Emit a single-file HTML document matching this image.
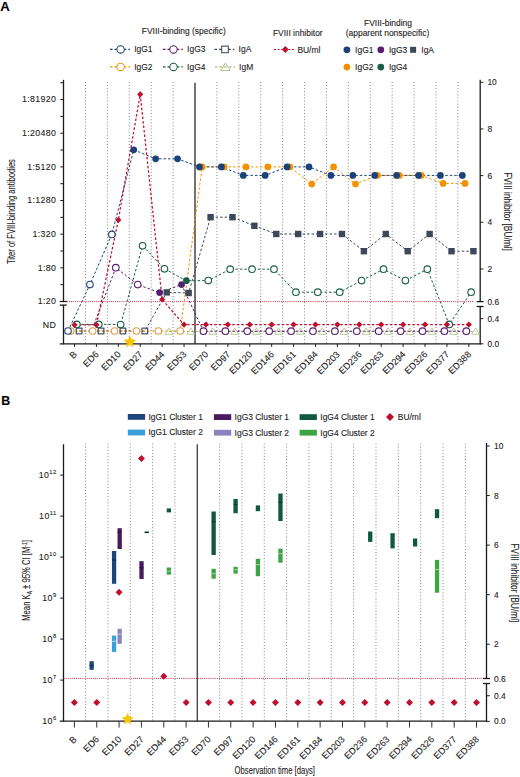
<!DOCTYPE html>
<html><head><meta charset="utf-8"><style>
html,body{margin:0;padding:0;background:#fff;}
svg{display:block;font-family:"Liberation Sans", sans-serif;}
text{stroke:#222;stroke-width:0.1px;}
</style></head><body>
<svg width="520" height="777" viewBox="0 0 520 777">
<rect width="520" height="777" fill="#fff"/>
<text x="0.2" y="11.3" font-size="13.2" text-anchor="start" fill="#000" font-weight="bold">A</text>
<text x="183.8" y="34.1" font-size="8.45" text-anchor="middle" fill="#222" >FVIII-binding (specific)</text>
<text x="297.8" y="35.9" font-size="8.45" text-anchor="middle" fill="#222" >FVIII inhibitor</text>
<text x="388" y="26.1" font-size="8.45" text-anchor="middle" fill="#222" >FVIII-binding</text>
<text x="387.5" y="35.8" font-size="8.45" text-anchor="middle" fill="#222" >(apparent nonspecific)</text>
<line x1="110" y1="49.4" x2="130" y2="49.4" stroke="#1d4278" stroke-width="1.2" stroke-dasharray="2.6 2.0"/>
<circle cx="120.6" cy="49.4" r="3.7" fill="#fff" stroke="#1d4278" stroke-width="1.05"/>
<text x="134.2" y="52.4" font-size="8.45" text-anchor="start" fill="#222" >IgG1</text>
<line x1="162.9" y1="49.4" x2="182.9" y2="49.4" stroke="#5a1e6e" stroke-width="1.2" stroke-dasharray="2.6 2.0"/>
<circle cx="173.5" cy="49.4" r="3.7" fill="#fff" stroke="#5a1e6e" stroke-width="1.05"/>
<text x="187.1" y="52.4" font-size="8.45" text-anchor="start" fill="#222" >IgG3</text>
<line x1="214.4" y1="49.4" x2="234.4" y2="49.4" stroke="#3e4858" stroke-width="1.2" stroke-dasharray="2.6 2.0"/>
<rect x="221.7" y="46.1" width="6.6" height="6.6" fill="#fff" stroke="#3e4858" stroke-width="1.05"/>
<text x="238.6" y="52.4" font-size="8.45" text-anchor="start" fill="#222" >IgA</text>
<line x1="110" y1="66.9" x2="130" y2="66.9" stroke="#f39200" stroke-width="1.2" stroke-dasharray="2.6 2.0"/>
<circle cx="120.6" cy="66.9" r="3.7" fill="#fff" stroke="#f39200" stroke-width="1.05"/>
<text x="134.2" y="69.9" font-size="8.45" text-anchor="start" fill="#222" >IgG2</text>
<line x1="162.9" y1="66.9" x2="182.9" y2="66.9" stroke="#1b5e47" stroke-width="1.2" stroke-dasharray="2.6 2.0"/>
<circle cx="173.5" cy="66.9" r="3.7" fill="#fff" stroke="#1b5e47" stroke-width="1.05"/>
<text x="187.1" y="69.9" font-size="8.45" text-anchor="start" fill="#222" >IgG4</text>
<line x1="214.9" y1="66.9" x2="234.9" y2="66.9" stroke="#a9b97c" stroke-width="1.2" stroke-dasharray="2.6 2.0"/>
<path d="M225.5 62.9L230.23 70.55L220.77 70.55Z" fill="none" stroke="#a9b97c" stroke-width="0.9"/>
<text x="239.1" y="69.9" font-size="8.45" text-anchor="start" fill="#222" >IgM</text>
<line x1="274" y1="49.5" x2="294" y2="49.5" stroke="#be0f2e" stroke-width="1" stroke-dasharray="2 1.6"/>
<path d="M285.3 46.1L288.7 49.5L285.3 52.9L281.9 49.5Z" fill="#be0f2e"/>
<text x="297.4" y="52.5" font-size="8.45" text-anchor="start" fill="#222" >BU/ml</text>
<circle cx="346.9" cy="49.8" r="3.4" fill="#1d4278" stroke="none" stroke-width="1"/>
<text x="355.1" y="52.8" font-size="8.45" text-anchor="start" fill="#222" >IgG1</text>
<circle cx="380.8" cy="49.8" r="3.4" fill="#5a1e6e" stroke="none" stroke-width="1"/>
<text x="389" y="52.8" font-size="8.45" text-anchor="start" fill="#222" >IgG3</text>
<rect x="410.1" y="46.8" width="6" height="6" fill="#3e4858" stroke="none" stroke-width="1"/>
<text x="421.3" y="52.8" font-size="8.45" text-anchor="start" fill="#222" >IgA</text>
<circle cx="346.9" cy="67.1" r="3.4" fill="#f39200" stroke="none" stroke-width="1"/>
<text x="355.1" y="70.1" font-size="8.45" text-anchor="start" fill="#222" >IgG2</text>
<circle cx="380.8" cy="67.1" r="3.4" fill="#1b5e47" stroke="none" stroke-width="1"/>
<text x="389" y="70.1" font-size="8.45" text-anchor="start" fill="#222" >IgG4</text>
<line x1="85.47" y1="82" x2="85.47" y2="343.8" stroke="#777" stroke-width="0.9" stroke-dasharray="1 2.1"/>
<line x1="107.38" y1="82" x2="107.38" y2="343.8" stroke="#777" stroke-width="0.9" stroke-dasharray="1 2.1"/>
<line x1="129.28" y1="82" x2="129.28" y2="343.8" stroke="#777" stroke-width="0.9" stroke-dasharray="1 2.1"/>
<line x1="151.19" y1="82" x2="151.19" y2="343.8" stroke="#777" stroke-width="0.9" stroke-dasharray="1 2.1"/>
<line x1="173.1" y1="82" x2="173.1" y2="343.8" stroke="#777" stroke-width="0.9" stroke-dasharray="1 2.1"/>
<line x1="195" y1="82.8" x2="195" y2="343.8" stroke="#5a5a5a" stroke-width="1.7" />
<line x1="216.91" y1="82" x2="216.91" y2="343.8" stroke="#777" stroke-width="0.9" stroke-dasharray="1 2.1"/>
<line x1="238.81" y1="82" x2="238.81" y2="343.8" stroke="#777" stroke-width="0.9" stroke-dasharray="1 2.1"/>
<line x1="260.72" y1="82" x2="260.72" y2="343.8" stroke="#777" stroke-width="0.9" stroke-dasharray="1 2.1"/>
<line x1="282.63" y1="82" x2="282.63" y2="343.8" stroke="#777" stroke-width="0.9" stroke-dasharray="1 2.1"/>
<line x1="304.53" y1="82" x2="304.53" y2="343.8" stroke="#777" stroke-width="0.9" stroke-dasharray="1 2.1"/>
<line x1="326.44" y1="82" x2="326.44" y2="343.8" stroke="#777" stroke-width="0.9" stroke-dasharray="1 2.1"/>
<line x1="348.34" y1="82" x2="348.34" y2="343.8" stroke="#777" stroke-width="0.9" stroke-dasharray="1 2.1"/>
<line x1="370.25" y1="82" x2="370.25" y2="343.8" stroke="#777" stroke-width="0.9" stroke-dasharray="1 2.1"/>
<line x1="392.16" y1="82" x2="392.16" y2="343.8" stroke="#777" stroke-width="0.9" stroke-dasharray="1 2.1"/>
<line x1="414.06" y1="82" x2="414.06" y2="343.8" stroke="#777" stroke-width="0.9" stroke-dasharray="1 2.1"/>
<line x1="435.97" y1="82" x2="435.97" y2="343.8" stroke="#777" stroke-width="0.9" stroke-dasharray="1 2.1"/>
<line x1="457.87" y1="82" x2="457.87" y2="343.8" stroke="#777" stroke-width="0.9" stroke-dasharray="1 2.1"/>
<line x1="66.8" y1="301.6" x2="473.8" y2="301.6" stroke="#be0f2e" stroke-width="0.9" stroke-dasharray="1 1.1"/>
<line x1="63.5" y1="79.8" x2="63.5" y2="301.5" stroke="#1a1a1a" stroke-width="1.3" />
<line x1="63.5" y1="305.1" x2="63.5" y2="344.4" stroke="#1a1a1a" stroke-width="1.3" />
<line x1="59.8" y1="301.5" x2="66.8" y2="301.5" stroke="#1a1a1a" stroke-width="1.3" />
<line x1="59.8" y1="305.1" x2="66.8" y2="305.1" stroke="#1a1a1a" stroke-width="1.3" />
<line x1="59.8" y1="343.8" x2="480.8" y2="343.8" stroke="#1a1a1a" stroke-width="1.3" />
<line x1="480.2" y1="79.8" x2="480.2" y2="301.6" stroke="#1a1a1a" stroke-width="1.3" />
<line x1="480.2" y1="306.5" x2="480.2" y2="344.4" stroke="#1a1a1a" stroke-width="1.3" />
<line x1="476.7" y1="301.6" x2="483.7" y2="301.6" stroke="#1a1a1a" stroke-width="1.3" />
<line x1="476.7" y1="306.5" x2="483.7" y2="306.5" stroke="#1a1a1a" stroke-width="1.3" />
<line x1="60.3" y1="284.67" x2="63.5" y2="284.67" stroke="#1a1a1a" stroke-width="1" />
<line x1="60.3" y1="267.84" x2="63.5" y2="267.84" stroke="#1a1a1a" stroke-width="1" />
<line x1="60.3" y1="251.01" x2="63.5" y2="251.01" stroke="#1a1a1a" stroke-width="1" />
<line x1="60.3" y1="234.18" x2="63.5" y2="234.18" stroke="#1a1a1a" stroke-width="1" />
<line x1="60.3" y1="217.35" x2="63.5" y2="217.35" stroke="#1a1a1a" stroke-width="1" />
<line x1="60.3" y1="200.52" x2="63.5" y2="200.52" stroke="#1a1a1a" stroke-width="1" />
<line x1="60.3" y1="183.69" x2="63.5" y2="183.69" stroke="#1a1a1a" stroke-width="1" />
<line x1="60.3" y1="166.86" x2="63.5" y2="166.86" stroke="#1a1a1a" stroke-width="1" />
<line x1="60.3" y1="150.03" x2="63.5" y2="150.03" stroke="#1a1a1a" stroke-width="1" />
<line x1="60.3" y1="133.2" x2="63.5" y2="133.2" stroke="#1a1a1a" stroke-width="1" />
<line x1="60.3" y1="116.37" x2="63.5" y2="116.37" stroke="#1a1a1a" stroke-width="1" />
<line x1="60.3" y1="99.54" x2="63.5" y2="99.54" stroke="#1a1a1a" stroke-width="1" />
<line x1="60.3" y1="82.71" x2="63.5" y2="82.71" stroke="#1a1a1a" stroke-width="1" />
<text x="56.4" y="304.3" font-size="8.8" text-anchor="end" fill="#222" letter-spacing="0.38">1:20</text>
<text x="56.4" y="270.64" font-size="8.8" text-anchor="end" fill="#222" letter-spacing="0.38">1:80</text>
<text x="56.4" y="236.98" font-size="8.8" text-anchor="end" fill="#222" letter-spacing="0.38">1:320</text>
<text x="56.4" y="203.32" font-size="8.8" text-anchor="end" fill="#222" letter-spacing="0.38">1:1280</text>
<text x="56.4" y="169.66" font-size="8.8" text-anchor="end" fill="#222" letter-spacing="0.38">1:5120</text>
<text x="56.4" y="136" font-size="8.8" text-anchor="end" fill="#222" letter-spacing="0.38">1:20480</text>
<text x="56.4" y="102.34" font-size="8.8" text-anchor="end" fill="#222" letter-spacing="0.38">1:81920</text>
<text x="56.4" y="327.6" font-size="8.8" text-anchor="end" fill="#222" letter-spacing="0.45">ND</text>
<line x1="480.2" y1="82.3" x2="483.4" y2="82.3" stroke="#1a1a1a" stroke-width="1" />
<text x="487.4" y="85.3" font-size="8.4" text-anchor="start" fill="#222" >10</text>
<line x1="480.2" y1="128.96" x2="483.4" y2="128.96" stroke="#1a1a1a" stroke-width="1" />
<text x="487.4" y="131.96" font-size="8.4" text-anchor="start" fill="#222" >8</text>
<line x1="480.2" y1="175.62" x2="483.4" y2="175.62" stroke="#1a1a1a" stroke-width="1" />
<text x="487.4" y="178.62" font-size="8.4" text-anchor="start" fill="#222" >6</text>
<line x1="480.2" y1="222.28" x2="483.4" y2="222.28" stroke="#1a1a1a" stroke-width="1" />
<text x="487.4" y="225.28" font-size="8.4" text-anchor="start" fill="#222" >4</text>
<line x1="480.2" y1="268.94" x2="483.4" y2="268.94" stroke="#1a1a1a" stroke-width="1" />
<text x="487.4" y="271.94" font-size="8.4" text-anchor="start" fill="#222" >2</text>
<text x="487.4" y="304.6" font-size="8.4" text-anchor="start" fill="#222" >0.6</text>
<line x1="480.2" y1="318.6" x2="483.4" y2="318.6" stroke="#1a1a1a" stroke-width="1" />
<text x="487.4" y="321.6" font-size="8.4" text-anchor="start" fill="#222" >0.4</text>
<line x1="480.2" y1="343.8" x2="483.4" y2="343.8" stroke="#1a1a1a" stroke-width="1" />
<text x="487.4" y="346.8" font-size="8.4" text-anchor="start" fill="#222" >0.0</text>
<line x1="74.52" y1="343.8" x2="74.52" y2="346.9" stroke="#1a1a1a" stroke-width="1" />
<line x1="96.43" y1="343.8" x2="96.43" y2="346.9" stroke="#1a1a1a" stroke-width="1" />
<line x1="118.33" y1="343.8" x2="118.33" y2="346.9" stroke="#1a1a1a" stroke-width="1" />
<line x1="140.24" y1="343.8" x2="140.24" y2="346.9" stroke="#1a1a1a" stroke-width="1" />
<line x1="162.14" y1="343.8" x2="162.14" y2="346.9" stroke="#1a1a1a" stroke-width="1" />
<line x1="184.05" y1="343.8" x2="184.05" y2="346.9" stroke="#1a1a1a" stroke-width="1" />
<line x1="205.96" y1="343.8" x2="205.96" y2="346.9" stroke="#1a1a1a" stroke-width="1" />
<line x1="227.86" y1="343.8" x2="227.86" y2="346.9" stroke="#1a1a1a" stroke-width="1" />
<line x1="249.77" y1="343.8" x2="249.77" y2="346.9" stroke="#1a1a1a" stroke-width="1" />
<line x1="271.67" y1="343.8" x2="271.67" y2="346.9" stroke="#1a1a1a" stroke-width="1" />
<line x1="293.58" y1="343.8" x2="293.58" y2="346.9" stroke="#1a1a1a" stroke-width="1" />
<line x1="315.49" y1="343.8" x2="315.49" y2="346.9" stroke="#1a1a1a" stroke-width="1" />
<line x1="337.39" y1="343.8" x2="337.39" y2="346.9" stroke="#1a1a1a" stroke-width="1" />
<line x1="359.3" y1="343.8" x2="359.3" y2="346.9" stroke="#1a1a1a" stroke-width="1" />
<line x1="381.2" y1="343.8" x2="381.2" y2="346.9" stroke="#1a1a1a" stroke-width="1" />
<line x1="403.11" y1="343.8" x2="403.11" y2="346.9" stroke="#1a1a1a" stroke-width="1" />
<line x1="425.02" y1="343.8" x2="425.02" y2="346.9" stroke="#1a1a1a" stroke-width="1" />
<line x1="446.92" y1="343.8" x2="446.92" y2="346.9" stroke="#1a1a1a" stroke-width="1" />
<line x1="468.83" y1="343.8" x2="468.83" y2="346.9" stroke="#1a1a1a" stroke-width="1" />
<text x="77.52" y="355" font-size="9.2" text-anchor="end" fill="#222" transform="rotate(-45 77.52 355)">B</text>
<text x="99.43" y="355" font-size="9.2" text-anchor="end" fill="#222" transform="rotate(-45 99.43 355)">ED6</text>
<text x="121.33" y="355" font-size="9.2" text-anchor="end" fill="#222" transform="rotate(-45 121.33 355)">ED10</text>
<text x="143.24" y="355" font-size="9.2" text-anchor="end" fill="#222" transform="rotate(-45 143.24 355)">ED27</text>
<text x="165.14" y="355" font-size="9.2" text-anchor="end" fill="#222" transform="rotate(-45 165.14 355)">ED44</text>
<text x="187.05" y="355" font-size="9.2" text-anchor="end" fill="#222" transform="rotate(-45 187.05 355)">ED53</text>
<text x="208.96" y="355" font-size="9.2" text-anchor="end" fill="#222" transform="rotate(-45 208.96 355)">ED70</text>
<text x="230.86" y="355" font-size="9.2" text-anchor="end" fill="#222" transform="rotate(-45 230.86 355)">ED97</text>
<text x="252.77" y="355" font-size="9.2" text-anchor="end" fill="#222" transform="rotate(-45 252.77 355)">ED120</text>
<text x="274.67" y="355" font-size="9.2" text-anchor="end" fill="#222" transform="rotate(-45 274.67 355)">ED146</text>
<text x="296.58" y="355" font-size="9.2" text-anchor="end" fill="#222" transform="rotate(-45 296.58 355)">ED161</text>
<text x="318.49" y="355" font-size="9.2" text-anchor="end" fill="#222" transform="rotate(-45 318.49 355)">ED184</text>
<text x="340.39" y="355" font-size="9.2" text-anchor="end" fill="#222" transform="rotate(-45 340.39 355)">ED203</text>
<text x="362.3" y="355" font-size="9.2" text-anchor="end" fill="#222" transform="rotate(-45 362.3 355)">ED236</text>
<text x="384.2" y="355" font-size="9.2" text-anchor="end" fill="#222" transform="rotate(-45 384.2 355)">ED263</text>
<text x="406.11" y="355" font-size="9.2" text-anchor="end" fill="#222" transform="rotate(-45 406.11 355)">ED294</text>
<text x="428.02" y="355" font-size="9.2" text-anchor="end" fill="#222" transform="rotate(-45 428.02 355)">ED326</text>
<text x="449.92" y="355" font-size="9.2" text-anchor="end" fill="#222" transform="rotate(-45 449.92 355)">ED377</text>
<text x="471.83" y="355" font-size="9.2" text-anchor="end" fill="#222" transform="rotate(-45 471.83 355)">ED388</text>
<text x="15.4" y="211.6" font-size="10.4" text-anchor="middle" fill="#222" textLength="105" lengthAdjust="spacingAndGlyphs" transform="rotate(-90 15.4 211.6)">Titer of FVIII-binding antibodies</text>
<text x="504.4" y="211.5" font-size="10.4" text-anchor="middle" fill="#222" textLength="78.6" lengthAdjust="spacingAndGlyphs" transform="rotate(90 504.4 211.5)">FVIII inhibitor  [BU/ml]</text>
<polyline points="168.94,331.5 190.85,331.5 212.76,331.5 234.66,331.5 256.57,331.5 278.47,331.5 300.38,331.5 322.29,331.5 344.19,331.5 366.1,331.5 388,331.5 409.91,331.5 431.82,331.5 453.72,331.5 475.63,331.5" fill="none" stroke="#a9b97c" stroke-width="1.0" stroke-dasharray="2.5 2.0"/>
<polyline points="93.93,324.5 115.83,267.7 137.74,284.6 159.64,292.6 181.55,284.6 203.46,331.2 225.36,331.2 247.27,331.2 269.17,331.2 291.08,331.2 312.99,331.2 334.89,331.2 356.8,331.2 378.7,331.2 400.61,331.2 422.52,331.2 444.42,331.2 466.33,331.2" fill="none" stroke="#5a1e6e" stroke-width="1.0" stroke-dasharray="2.5 2.0"/>
<polyline points="76.82,324.4 98.73,324.4 120.63,324.5 142.54,245.8 164.44,268.8 186.35,280.7 208.26,280.6 230.16,269.2 252.07,269.2 273.97,269.2 295.88,292.2 317.79,292.2 339.69,292.2 361.6,280.6 383.5,269.2 405.41,280.6 427.32,269.2 449.22,324.4 471.13,292.2" fill="none" stroke="#1b5e47" stroke-width="1.0" stroke-dasharray="2.5 2.0"/>
<polyline points="79.12,331 101.03,331 122.93,331 144.84,331 166.74,292.4 188.65,293 210.56,217.2 232.46,217.2 254.37,225.8 276.27,234 298.18,234 320.09,234 341.99,234 363.9,251.2 385.8,234 407.71,251.2 429.62,234 451.52,251.2 473.43,251.2" fill="none" stroke="#3e4858" stroke-width="1.0" stroke-dasharray="2.5 2.0"/>
<polyline points="70.72,331 92.63,331 114.53,331 136.44,331 158.34,331 180.25,331 202.16,166.9 224.06,166.9 245.97,166.9 267.87,166.9 289.78,166.9 311.69,184 333.59,166.9 355.5,184 377.4,175.4 399.31,175.4 421.22,175.4 443.12,183.4 465.03,183.4" fill="none" stroke="#f39200" stroke-width="1.0" stroke-dasharray="2.5 2.0"/>
<polyline points="68.02,331 89.93,284.6 111.83,234.4 133.74,149.8 155.64,158.8 177.55,158.8 199.46,166.9 221.36,166.9 243.27,175.4 265.17,175.4 287.08,166.9 308.99,166.9 330.89,175.4 352.8,175.4 374.7,175.4 396.61,175.4 418.52,175.4 440.42,175.4 462.33,175.4" fill="none" stroke="#1d4278" stroke-width="1.0" stroke-dasharray="2.5 2.0"/>
<polyline points="74.52,324.8 96.43,324.8 118.33,220 140.24,94.3 162.14,299.5 184.05,324.6 205.96,324.6 227.86,324.6 249.77,324.6 271.67,324.6 293.58,324.6 315.49,324.6 337.39,324.6 359.3,324.6 381.2,324.6 403.11,324.6 425.02,324.6 446.92,324.6 468.83,324.6" fill="none" stroke="#be0f2e" stroke-width="1.25" stroke-dasharray="2.5 2.0"/>
<path d="M168.94 327.9L172.9 334.31L164.98 334.31Z" fill="none" stroke="#a9b97c" stroke-width="0.75"/>
<path d="M190.85 327.9L194.81 334.31L186.89 334.31Z" fill="none" stroke="#a9b97c" stroke-width="0.75"/>
<path d="M212.76 327.9L216.72 334.31L208.8 334.31Z" fill="none" stroke="#a9b97c" stroke-width="0.75"/>
<path d="M234.66 327.9L238.62 334.31L230.7 334.31Z" fill="none" stroke="#a9b97c" stroke-width="0.75"/>
<path d="M256.57 327.9L260.53 334.31L252.61 334.31Z" fill="none" stroke="#a9b97c" stroke-width="0.75"/>
<path d="M278.47 327.9L282.43 334.31L274.51 334.31Z" fill="none" stroke="#a9b97c" stroke-width="0.75"/>
<path d="M300.38 327.9L304.34 334.31L296.42 334.31Z" fill="none" stroke="#a9b97c" stroke-width="0.75"/>
<path d="M322.29 327.9L326.25 334.31L318.33 334.31Z" fill="none" stroke="#a9b97c" stroke-width="0.75"/>
<path d="M344.19 327.9L348.15 334.31L340.23 334.31Z" fill="none" stroke="#a9b97c" stroke-width="0.75"/>
<path d="M366.1 327.9L370.06 334.31L362.14 334.31Z" fill="none" stroke="#a9b97c" stroke-width="0.75"/>
<path d="M388 327.9L391.96 334.31L384.04 334.31Z" fill="none" stroke="#a9b97c" stroke-width="0.75"/>
<path d="M409.91 327.9L413.87 334.31L405.95 334.31Z" fill="none" stroke="#a9b97c" stroke-width="0.75"/>
<path d="M431.82 327.9L435.78 334.31L427.86 334.31Z" fill="none" stroke="#a9b97c" stroke-width="0.75"/>
<path d="M453.72 327.9L457.68 334.31L449.76 334.31Z" fill="none" stroke="#a9b97c" stroke-width="0.75"/>
<path d="M475.63 327.9L479.59 334.31L471.67 334.31Z" fill="none" stroke="#a9b97c" stroke-width="0.75"/>
<circle cx="115.83" cy="267.7" r="3.3" fill="#fff" stroke="#5a1e6e" stroke-width="1.1"/>
<circle cx="137.74" cy="284.6" r="3.3" fill="#fff" stroke="#5a1e6e" stroke-width="1.1"/>
<circle cx="159.64" cy="292.6" r="3.35" fill="#5a1e6e" stroke="none" stroke-width="1"/>
<circle cx="181.55" cy="284.6" r="3.35" fill="#5a1e6e" stroke="none" stroke-width="1"/>
<circle cx="203.46" cy="331.2" r="3.3" fill="#fff" stroke="#5a1e6e" stroke-width="1.1"/>
<circle cx="225.36" cy="331.2" r="3.3" fill="#fff" stroke="#5a1e6e" stroke-width="1.1"/>
<circle cx="247.27" cy="331.2" r="3.3" fill="#fff" stroke="#5a1e6e" stroke-width="1.1"/>
<circle cx="269.17" cy="331.2" r="3.3" fill="#fff" stroke="#5a1e6e" stroke-width="1.1"/>
<circle cx="291.08" cy="331.2" r="3.3" fill="#fff" stroke="#5a1e6e" stroke-width="1.1"/>
<circle cx="312.99" cy="331.2" r="3.3" fill="#fff" stroke="#5a1e6e" stroke-width="1.1"/>
<circle cx="334.89" cy="331.2" r="3.3" fill="#fff" stroke="#5a1e6e" stroke-width="1.1"/>
<circle cx="356.8" cy="331.2" r="3.3" fill="#fff" stroke="#5a1e6e" stroke-width="1.1"/>
<circle cx="378.7" cy="331.2" r="3.3" fill="#fff" stroke="#5a1e6e" stroke-width="1.1"/>
<circle cx="400.61" cy="331.2" r="3.3" fill="#fff" stroke="#5a1e6e" stroke-width="1.1"/>
<circle cx="422.52" cy="331.2" r="3.3" fill="#fff" stroke="#5a1e6e" stroke-width="1.1"/>
<circle cx="444.42" cy="331.2" r="3.3" fill="#fff" stroke="#5a1e6e" stroke-width="1.1"/>
<circle cx="466.33" cy="331.2" r="3.3" fill="#fff" stroke="#5a1e6e" stroke-width="1.1"/>
<circle cx="76.82" cy="324.4" r="3.3" fill="#fff" stroke="#1b5e47" stroke-width="1.1"/>
<circle cx="98.73" cy="324.4" r="3.3" fill="#fff" stroke="#1b5e47" stroke-width="1.1"/>
<circle cx="120.63" cy="324.5" r="3.3" fill="#fff" stroke="#1b5e47" stroke-width="1.1"/>
<circle cx="142.54" cy="245.8" r="3.3" fill="#fff" stroke="#1b5e47" stroke-width="1.1"/>
<circle cx="164.44" cy="268.8" r="3.3" fill="#fff" stroke="#1b5e47" stroke-width="1.1"/>
<circle cx="186.35" cy="280.7" r="3.35" fill="#1b5e47" stroke="none" stroke-width="1"/>
<circle cx="208.26" cy="280.6" r="3.3" fill="#fff" stroke="#1b5e47" stroke-width="1.1"/>
<circle cx="230.16" cy="269.2" r="3.3" fill="#fff" stroke="#1b5e47" stroke-width="1.1"/>
<circle cx="252.07" cy="269.2" r="3.3" fill="#fff" stroke="#1b5e47" stroke-width="1.1"/>
<circle cx="273.97" cy="269.2" r="3.3" fill="#fff" stroke="#1b5e47" stroke-width="1.1"/>
<circle cx="295.88" cy="292.2" r="3.3" fill="#fff" stroke="#1b5e47" stroke-width="1.1"/>
<circle cx="317.79" cy="292.2" r="3.3" fill="#fff" stroke="#1b5e47" stroke-width="1.1"/>
<circle cx="339.69" cy="292.2" r="3.3" fill="#fff" stroke="#1b5e47" stroke-width="1.1"/>
<circle cx="361.6" cy="280.6" r="3.3" fill="#fff" stroke="#1b5e47" stroke-width="1.1"/>
<circle cx="383.5" cy="269.2" r="3.3" fill="#fff" stroke="#1b5e47" stroke-width="1.1"/>
<circle cx="405.41" cy="280.6" r="3.3" fill="#fff" stroke="#1b5e47" stroke-width="1.1"/>
<circle cx="427.32" cy="269.2" r="3.3" fill="#fff" stroke="#1b5e47" stroke-width="1.1"/>
<circle cx="449.22" cy="324.4" r="3.3" fill="#fff" stroke="#1b5e47" stroke-width="1.1"/>
<circle cx="471.13" cy="292.2" r="3.3" fill="#fff" stroke="#1b5e47" stroke-width="1.1"/>
<circle cx="70.72" cy="331" r="3.3" fill="#fff" stroke="#dea04a" stroke-width="1.1"/>
<circle cx="92.63" cy="331" r="3.3" fill="#fff" stroke="#dea04a" stroke-width="1.1"/>
<circle cx="114.53" cy="331" r="3.3" fill="#fff" stroke="#dea04a" stroke-width="1.1"/>
<circle cx="136.44" cy="331" r="3.3" fill="#fff" stroke="#dea04a" stroke-width="1.1"/>
<circle cx="158.34" cy="331" r="3.3" fill="#fff" stroke="#dea04a" stroke-width="1.1"/>
<circle cx="180.25" cy="331" r="3.3" fill="#fff" stroke="#dea04a" stroke-width="1.1"/>
<circle cx="202.16" cy="166.9" r="3.35" fill="#f39200" stroke="none" stroke-width="1"/>
<circle cx="224.06" cy="166.9" r="3.35" fill="#f39200" stroke="none" stroke-width="1"/>
<circle cx="245.97" cy="166.9" r="3.35" fill="#f39200" stroke="none" stroke-width="1"/>
<circle cx="267.87" cy="166.9" r="3.35" fill="#f39200" stroke="none" stroke-width="1"/>
<circle cx="289.78" cy="166.9" r="3.35" fill="#f39200" stroke="none" stroke-width="1"/>
<circle cx="311.69" cy="184" r="3.35" fill="#f39200" stroke="none" stroke-width="1"/>
<circle cx="333.59" cy="166.9" r="3.35" fill="#f39200" stroke="none" stroke-width="1"/>
<circle cx="355.5" cy="184" r="3.35" fill="#f39200" stroke="none" stroke-width="1"/>
<circle cx="377.4" cy="175.4" r="3.35" fill="#f39200" stroke="none" stroke-width="1"/>
<circle cx="399.31" cy="175.4" r="3.35" fill="#f39200" stroke="none" stroke-width="1"/>
<circle cx="421.22" cy="175.4" r="3.35" fill="#f39200" stroke="none" stroke-width="1"/>
<circle cx="443.12" cy="183.4" r="3.35" fill="#f39200" stroke="none" stroke-width="1"/>
<circle cx="465.03" cy="183.4" r="3.35" fill="#f39200" stroke="none" stroke-width="1"/>
<rect x="76.27" y="328.15" width="5.7" height="5.7" fill="none" stroke="#3e4858" stroke-width="1.15"/>
<rect x="98.18" y="328.15" width="5.7" height="5.7" fill="none" stroke="#3e4858" stroke-width="1.15"/>
<rect x="120.08" y="328.15" width="5.7" height="5.7" fill="none" stroke="#3e4858" stroke-width="1.15"/>
<rect x="141.99" y="328.15" width="5.7" height="5.7" fill="none" stroke="#3e4858" stroke-width="1.15"/>
<rect x="163.54" y="289.2" width="6.4" height="6.4" fill="#3e4858" stroke="none" stroke-width="1"/>
<rect x="185.45" y="289.8" width="6.4" height="6.4" fill="#3e4858" stroke="none" stroke-width="1"/>
<rect x="207.36" y="214" width="6.4" height="6.4" fill="#3e4858" stroke="none" stroke-width="1"/>
<rect x="229.26" y="214" width="6.4" height="6.4" fill="#3e4858" stroke="none" stroke-width="1"/>
<rect x="251.17" y="222.6" width="6.4" height="6.4" fill="#3e4858" stroke="none" stroke-width="1"/>
<rect x="273.07" y="230.8" width="6.4" height="6.4" fill="#3e4858" stroke="none" stroke-width="1"/>
<rect x="294.98" y="230.8" width="6.4" height="6.4" fill="#3e4858" stroke="none" stroke-width="1"/>
<rect x="316.89" y="230.8" width="6.4" height="6.4" fill="#3e4858" stroke="none" stroke-width="1"/>
<rect x="338.79" y="230.8" width="6.4" height="6.4" fill="#3e4858" stroke="none" stroke-width="1"/>
<rect x="360.7" y="248" width="6.4" height="6.4" fill="#3e4858" stroke="none" stroke-width="1"/>
<rect x="382.6" y="230.8" width="6.4" height="6.4" fill="#3e4858" stroke="none" stroke-width="1"/>
<rect x="404.51" y="248" width="6.4" height="6.4" fill="#3e4858" stroke="none" stroke-width="1"/>
<rect x="426.42" y="230.8" width="6.4" height="6.4" fill="#3e4858" stroke="none" stroke-width="1"/>
<rect x="448.32" y="248" width="6.4" height="6.4" fill="#3e4858" stroke="none" stroke-width="1"/>
<rect x="470.23" y="248" width="6.4" height="6.4" fill="#3e4858" stroke="none" stroke-width="1"/>
<circle cx="68.02" cy="331" r="3.3" fill="#fff" stroke="#1d4278" stroke-width="1.1"/>
<circle cx="89.93" cy="284.6" r="3.3" fill="#fff" stroke="#1d4278" stroke-width="1.1"/>
<circle cx="111.83" cy="234.4" r="3.3" fill="#fff" stroke="#1d4278" stroke-width="1.1"/>
<circle cx="133.74" cy="149.8" r="3.35" fill="#1d4278" stroke="none" stroke-width="1"/>
<circle cx="155.64" cy="158.8" r="3.35" fill="#1d4278" stroke="none" stroke-width="1"/>
<circle cx="177.55" cy="158.8" r="3.35" fill="#1d4278" stroke="none" stroke-width="1"/>
<circle cx="199.46" cy="166.9" r="3.35" fill="#1d4278" stroke="none" stroke-width="1"/>
<circle cx="221.36" cy="166.9" r="3.35" fill="#1d4278" stroke="none" stroke-width="1"/>
<circle cx="243.27" cy="175.4" r="3.35" fill="#1d4278" stroke="none" stroke-width="1"/>
<circle cx="265.17" cy="175.4" r="3.35" fill="#1d4278" stroke="none" stroke-width="1"/>
<circle cx="287.08" cy="166.9" r="3.35" fill="#1d4278" stroke="none" stroke-width="1"/>
<circle cx="308.99" cy="166.9" r="3.35" fill="#1d4278" stroke="none" stroke-width="1"/>
<circle cx="330.89" cy="175.4" r="3.35" fill="#1d4278" stroke="none" stroke-width="1"/>
<circle cx="352.8" cy="175.4" r="3.35" fill="#1d4278" stroke="none" stroke-width="1"/>
<circle cx="374.7" cy="175.4" r="3.35" fill="#1d4278" stroke="none" stroke-width="1"/>
<circle cx="396.61" cy="175.4" r="3.35" fill="#1d4278" stroke="none" stroke-width="1"/>
<circle cx="418.52" cy="175.4" r="3.35" fill="#1d4278" stroke="none" stroke-width="1"/>
<circle cx="440.42" cy="175.4" r="3.35" fill="#1d4278" stroke="none" stroke-width="1"/>
<circle cx="462.33" cy="175.4" r="3.35" fill="#1d4278" stroke="none" stroke-width="1"/>
<path d="M74.52 321.7L77.62 324.8L74.52 327.9L71.42 324.8Z" fill="#be0f2e"/>
<path d="M96.43 321.7L99.53 324.8L96.43 327.9L93.33 324.8Z" fill="#be0f2e"/>
<path d="M118.33 216.9L121.43 220L118.33 223.1L115.23 220Z" fill="#be0f2e"/>
<path d="M140.24 91.2L143.34 94.3L140.24 97.4L137.14 94.3Z" fill="#be0f2e"/>
<path d="M162.14 296.4L165.24 299.5L162.14 302.6L159.04 299.5Z" fill="#be0f2e"/>
<path d="M184.05 321.5L187.15 324.6L184.05 327.7L180.95 324.6Z" fill="#be0f2e"/>
<path d="M205.96 321.5L209.06 324.6L205.96 327.7L202.86 324.6Z" fill="#be0f2e"/>
<path d="M227.86 321.5L230.96 324.6L227.86 327.7L224.76 324.6Z" fill="#be0f2e"/>
<path d="M249.77 321.5L252.87 324.6L249.77 327.7L246.67 324.6Z" fill="#be0f2e"/>
<path d="M271.67 321.5L274.77 324.6L271.67 327.7L268.57 324.6Z" fill="#be0f2e"/>
<path d="M293.58 321.5L296.68 324.6L293.58 327.7L290.48 324.6Z" fill="#be0f2e"/>
<path d="M315.49 321.5L318.59 324.6L315.49 327.7L312.39 324.6Z" fill="#be0f2e"/>
<path d="M337.39 321.5L340.49 324.6L337.39 327.7L334.29 324.6Z" fill="#be0f2e"/>
<path d="M359.3 321.5L362.4 324.6L359.3 327.7L356.2 324.6Z" fill="#be0f2e"/>
<path d="M381.2 321.5L384.3 324.6L381.2 327.7L378.1 324.6Z" fill="#be0f2e"/>
<path d="M403.11 321.5L406.21 324.6L403.11 327.7L400.01 324.6Z" fill="#be0f2e"/>
<path d="M425.02 321.5L428.12 324.6L425.02 327.7L421.92 324.6Z" fill="#be0f2e"/>
<path d="M446.92 321.5L450.02 324.6L446.92 327.7L443.82 324.6Z" fill="#be0f2e"/>
<path d="M468.83 321.5L471.93 324.6L468.83 327.7L465.73 324.6Z" fill="#be0f2e"/>
<polygon points="129.9,335.4 131.77,339.32 136.08,339.89 132.93,342.88 133.72,347.16 129.9,345.08 126.08,347.16 126.87,342.88 123.72,339.89 128.03,339.32" fill="#f8c300"/>
<text x="1.3" y="405" font-size="12.4" text-anchor="start" fill="#000" font-weight="bold">B</text>
<rect x="127.8" y="414" width="17.3" height="5.8" fill="#1c4579"/>
<text x="148.5" y="419.7" font-size="8.45" text-anchor="start" fill="#222" >IgG1 Cluster 1</text>
<rect x="127.8" y="429.6" width="17.3" height="5.8" fill="#3a9fdc"/>
<text x="148.5" y="435.3" font-size="8.45" text-anchor="start" fill="#222" >IgG1 Cluster 2</text>
<rect x="213.9" y="414.2" width="17.3" height="5.8" fill="#4a1a60"/>
<text x="234.6" y="419.9" font-size="8.45" text-anchor="start" fill="#222" >IgG3 Cluster 1</text>
<rect x="213.9" y="429.8" width="17.3" height="5.8" fill="#8c82c0"/>
<text x="234.6" y="435.5" font-size="8.45" text-anchor="start" fill="#222" >IgG3 Cluster 2</text>
<rect x="299.6" y="414.2" width="17.3" height="5.8" fill="#0f5a3f"/>
<text x="320.3" y="419.9" font-size="8.45" text-anchor="start" fill="#222" >IgG4 Cluster 1</text>
<rect x="299.6" y="429.8" width="17.3" height="5.8" fill="#3da443"/>
<text x="320.3" y="435.5" font-size="8.45" text-anchor="start" fill="#222" >IgG4 Cluster 2</text>
<path d="M390 412.9L394 416.9L390 420.9L386 416.9Z" fill="#be0f2e"/>
<text x="397.8" y="420" font-size="8.45" text-anchor="start" fill="#222" >BU/ml</text>
<line x1="85.57" y1="443.5" x2="85.57" y2="721.2" stroke="#777" stroke-width="0.9" stroke-dasharray="1 2.1"/>
<line x1="107.91" y1="443.5" x2="107.91" y2="721.2" stroke="#777" stroke-width="0.9" stroke-dasharray="1 2.1"/>
<line x1="130.25" y1="443.5" x2="130.25" y2="721.2" stroke="#777" stroke-width="0.9" stroke-dasharray="1 2.1"/>
<line x1="152.59" y1="443.5" x2="152.59" y2="721.2" stroke="#777" stroke-width="0.9" stroke-dasharray="1 2.1"/>
<line x1="174.93" y1="443.5" x2="174.93" y2="721.2" stroke="#777" stroke-width="0.9" stroke-dasharray="1 2.1"/>
<line x1="197.27" y1="444.3" x2="197.27" y2="721.2" stroke="#3a3a3a" stroke-width="1.3" />
<line x1="219.61" y1="443.5" x2="219.61" y2="721.2" stroke="#777" stroke-width="0.9" stroke-dasharray="1 2.1"/>
<line x1="241.95" y1="443.5" x2="241.95" y2="721.2" stroke="#777" stroke-width="0.9" stroke-dasharray="1 2.1"/>
<line x1="264.29" y1="443.5" x2="264.29" y2="721.2" stroke="#777" stroke-width="0.9" stroke-dasharray="1 2.1"/>
<line x1="286.63" y1="443.5" x2="286.63" y2="721.2" stroke="#777" stroke-width="0.9" stroke-dasharray="1 2.1"/>
<line x1="308.97" y1="443.5" x2="308.97" y2="721.2" stroke="#777" stroke-width="0.9" stroke-dasharray="1 2.1"/>
<line x1="331.31" y1="443.5" x2="331.31" y2="721.2" stroke="#777" stroke-width="0.9" stroke-dasharray="1 2.1"/>
<line x1="353.65" y1="443.5" x2="353.65" y2="721.2" stroke="#777" stroke-width="0.9" stroke-dasharray="1 2.1"/>
<line x1="375.99" y1="443.5" x2="375.99" y2="721.2" stroke="#777" stroke-width="0.9" stroke-dasharray="1 2.1"/>
<line x1="398.33" y1="443.5" x2="398.33" y2="721.2" stroke="#777" stroke-width="0.9" stroke-dasharray="1 2.1"/>
<line x1="420.67" y1="443.5" x2="420.67" y2="721.2" stroke="#777" stroke-width="0.9" stroke-dasharray="1 2.1"/>
<line x1="443.01" y1="443.5" x2="443.01" y2="721.2" stroke="#777" stroke-width="0.9" stroke-dasharray="1 2.1"/>
<line x1="465.35" y1="443.5" x2="465.35" y2="721.2" stroke="#777" stroke-width="0.9" stroke-dasharray="1 2.1"/>
<line x1="63.5" y1="678.4" x2="485" y2="678.4" stroke="#be0f2e" stroke-width="0.9" stroke-dasharray="1 1.1"/>
<line x1="63.5" y1="444.3" x2="63.5" y2="721.8" stroke="#1a1a1a" stroke-width="1.3" />
<line x1="59.8" y1="721.2" x2="487.1" y2="721.2" stroke="#1a1a1a" stroke-width="1.3" />
<line x1="486.5" y1="442.9" x2="486.5" y2="678.5" stroke="#1a1a1a" stroke-width="1.3" />
<line x1="486.5" y1="683.5" x2="486.5" y2="721.8" stroke="#1a1a1a" stroke-width="1.3" />
<line x1="483" y1="678.5" x2="490" y2="678.5" stroke="#1a1a1a" stroke-width="1.3" />
<line x1="483" y1="683.5" x2="490" y2="683.5" stroke="#1a1a1a" stroke-width="1.3" />
<line x1="60.2" y1="680.1" x2="63.5" y2="680.1" stroke="#1a1a1a" stroke-width="1" />
<line x1="60.2" y1="639.1" x2="63.5" y2="639.1" stroke="#1a1a1a" stroke-width="1" />
<line x1="60.2" y1="598.1" x2="63.5" y2="598.1" stroke="#1a1a1a" stroke-width="1" />
<line x1="60.2" y1="557.1" x2="63.5" y2="557.1" stroke="#1a1a1a" stroke-width="1" />
<line x1="60.2" y1="516.1" x2="63.5" y2="516.1" stroke="#1a1a1a" stroke-width="1" />
<line x1="60.2" y1="475.1" x2="63.5" y2="475.1" stroke="#1a1a1a" stroke-width="1" />
<text x="56.6" y="724.2" font-size="8.8" text-anchor="end" fill="#222" letter-spacing="0.45">10<tspan font-size="5.8" dy="-3.8" letter-spacing="0.4">6</tspan></text>
<text x="56.6" y="683.2" font-size="8.8" text-anchor="end" fill="#222" letter-spacing="0.45">10<tspan font-size="5.8" dy="-3.8" letter-spacing="0.4">7</tspan></text>
<text x="56.6" y="642.2" font-size="8.8" text-anchor="end" fill="#222" letter-spacing="0.45">10<tspan font-size="5.8" dy="-3.8" letter-spacing="0.4">8</tspan></text>
<text x="56.6" y="601.2" font-size="8.8" text-anchor="end" fill="#222" letter-spacing="0.45">10<tspan font-size="5.8" dy="-3.8" letter-spacing="0.4">9</tspan></text>
<text x="56.6" y="560.2" font-size="8.8" text-anchor="end" fill="#222" letter-spacing="0.45">10<tspan font-size="5.8" dy="-3.8" letter-spacing="0.4">10</tspan></text>
<text x="56.6" y="519.2" font-size="8.8" text-anchor="end" fill="#222" letter-spacing="0.45">10<tspan font-size="5.8" dy="-3.8" letter-spacing="0.4">11</tspan></text>
<text x="56.6" y="478.2" font-size="8.8" text-anchor="end" fill="#222" letter-spacing="0.45">10<tspan font-size="5.8" dy="-3.8" letter-spacing="0.4">12</tspan></text>
<line x1="486.5" y1="446" x2="489.8" y2="446" stroke="#1a1a1a" stroke-width="1" />
<text x="494" y="449" font-size="8.4" text-anchor="start" fill="#222" >10</text>
<line x1="486.5" y1="495.56" x2="489.8" y2="495.56" stroke="#1a1a1a" stroke-width="1" />
<text x="494" y="498.56" font-size="8.4" text-anchor="start" fill="#222" >8</text>
<line x1="486.5" y1="545.12" x2="489.8" y2="545.12" stroke="#1a1a1a" stroke-width="1" />
<text x="494" y="548.12" font-size="8.4" text-anchor="start" fill="#222" >6</text>
<line x1="486.5" y1="594.68" x2="489.8" y2="594.68" stroke="#1a1a1a" stroke-width="1" />
<text x="494" y="597.68" font-size="8.4" text-anchor="start" fill="#222" >4</text>
<line x1="486.5" y1="644.24" x2="489.8" y2="644.24" stroke="#1a1a1a" stroke-width="1" />
<text x="494" y="647.24" font-size="8.4" text-anchor="start" fill="#222" >2</text>
<text x="494" y="681.5" font-size="8.4" text-anchor="start" fill="#222" >0.6</text>
<line x1="486.5" y1="695.72" x2="489.8" y2="695.72" stroke="#1a1a1a" stroke-width="1" />
<text x="494" y="698.72" font-size="8.4" text-anchor="start" fill="#222" >0.4</text>
<line x1="486.5" y1="721.4" x2="489.8" y2="721.4" stroke="#1a1a1a" stroke-width="1" />
<text x="494" y="724.4" font-size="8.4" text-anchor="start" fill="#222" >0.0</text>
<line x1="74.4" y1="721.2" x2="74.4" y2="727.6" stroke="#333" stroke-width="1" />
<line x1="96.74" y1="721.2" x2="96.74" y2="727.6" stroke="#333" stroke-width="1" />
<line x1="119.08" y1="721.2" x2="119.08" y2="727.6" stroke="#333" stroke-width="1" />
<line x1="141.42" y1="721.2" x2="141.42" y2="727.6" stroke="#333" stroke-width="1" />
<line x1="163.76" y1="721.2" x2="163.76" y2="727.6" stroke="#333" stroke-width="1" />
<line x1="186.1" y1="721.2" x2="186.1" y2="727.6" stroke="#333" stroke-width="1" />
<line x1="208.44" y1="721.2" x2="208.44" y2="727.6" stroke="#333" stroke-width="1" />
<line x1="230.78" y1="721.2" x2="230.78" y2="727.6" stroke="#333" stroke-width="1" />
<line x1="253.12" y1="721.2" x2="253.12" y2="727.6" stroke="#333" stroke-width="1" />
<line x1="275.46" y1="721.2" x2="275.46" y2="727.6" stroke="#333" stroke-width="1" />
<line x1="297.8" y1="721.2" x2="297.8" y2="727.6" stroke="#333" stroke-width="1" />
<line x1="320.14" y1="721.2" x2="320.14" y2="727.6" stroke="#333" stroke-width="1" />
<line x1="342.48" y1="721.2" x2="342.48" y2="727.6" stroke="#333" stroke-width="1" />
<line x1="364.82" y1="721.2" x2="364.82" y2="727.6" stroke="#333" stroke-width="1" />
<line x1="387.16" y1="721.2" x2="387.16" y2="727.6" stroke="#333" stroke-width="1" />
<line x1="409.5" y1="721.2" x2="409.5" y2="727.6" stroke="#333" stroke-width="1" />
<line x1="431.84" y1="721.2" x2="431.84" y2="727.6" stroke="#333" stroke-width="1" />
<line x1="454.18" y1="721.2" x2="454.18" y2="727.6" stroke="#333" stroke-width="1" />
<line x1="476.52" y1="721.2" x2="476.52" y2="727.6" stroke="#333" stroke-width="1" />
<text x="77.4" y="740" font-size="9.2" text-anchor="end" fill="#222" transform="rotate(-45 77.4 740)">B</text>
<text x="99.74" y="740" font-size="9.2" text-anchor="end" fill="#222" transform="rotate(-45 99.74 740)">ED6</text>
<text x="122.08" y="740" font-size="9.2" text-anchor="end" fill="#222" transform="rotate(-45 122.08 740)">ED10</text>
<text x="144.42" y="740" font-size="9.2" text-anchor="end" fill="#222" transform="rotate(-45 144.42 740)">ED27</text>
<text x="166.76" y="740" font-size="9.2" text-anchor="end" fill="#222" transform="rotate(-45 166.76 740)">ED44</text>
<text x="189.1" y="740" font-size="9.2" text-anchor="end" fill="#222" transform="rotate(-45 189.1 740)">ED53</text>
<text x="211.44" y="740" font-size="9.2" text-anchor="end" fill="#222" transform="rotate(-45 211.44 740)">ED70</text>
<text x="233.78" y="740" font-size="9.2" text-anchor="end" fill="#222" transform="rotate(-45 233.78 740)">ED97</text>
<text x="256.12" y="740" font-size="9.2" text-anchor="end" fill="#222" transform="rotate(-45 256.12 740)">ED120</text>
<text x="278.46" y="740" font-size="9.2" text-anchor="end" fill="#222" transform="rotate(-45 278.46 740)">ED146</text>
<text x="300.8" y="740" font-size="9.2" text-anchor="end" fill="#222" transform="rotate(-45 300.8 740)">ED161</text>
<text x="323.14" y="740" font-size="9.2" text-anchor="end" fill="#222" transform="rotate(-45 323.14 740)">ED184</text>
<text x="345.48" y="740" font-size="9.2" text-anchor="end" fill="#222" transform="rotate(-45 345.48 740)">ED203</text>
<text x="367.82" y="740" font-size="9.2" text-anchor="end" fill="#222" transform="rotate(-45 367.82 740)">ED236</text>
<text x="390.16" y="740" font-size="9.2" text-anchor="end" fill="#222" transform="rotate(-45 390.16 740)">ED263</text>
<text x="412.5" y="740" font-size="9.2" text-anchor="end" fill="#222" transform="rotate(-45 412.5 740)">ED294</text>
<text x="434.84" y="740" font-size="9.2" text-anchor="end" fill="#222" transform="rotate(-45 434.84 740)">ED326</text>
<text x="457.18" y="740" font-size="9.2" text-anchor="end" fill="#222" transform="rotate(-45 457.18 740)">ED377</text>
<text x="479.52" y="740" font-size="9.2" text-anchor="end" fill="#222" transform="rotate(-45 479.52 740)">ED388</text>
<text x="274.8" y="774.2" font-size="10.2" text-anchor="middle" fill="#222" textLength="80.4" lengthAdjust="spacingAndGlyphs">Observation time [days]</text>
<text x="0" y="0" font-size="10.2" text-anchor="middle" fill="#222" transform="translate(30 580.5) rotate(-90) scale(0.755 1)">Mean K<tspan font-size="6.5" dy="1.8">A</tspan><tspan dy="-1.8"> ± 95% CI [M</tspan><tspan font-size="6.5" dy="-3.5">-1</tspan><tspan dy="3.5">]</tspan></text>
<text x="511.2" y="582.8" font-size="10.4" text-anchor="middle" fill="#222" textLength="79.2" lengthAdjust="spacingAndGlyphs" transform="rotate(90 511.2 582.8)">FVIII inhibitor  [BU/ml]</text>
<rect x="89.49" y="661.2" width="4.3" height="8.6" fill="#1c4579"/>
<rect x="89.49" y="664.95" width="4.3" height="0.9" fill="#0e2a55"/>
<rect x="111.93" y="551" width="4.3" height="32.8" fill="#1c4579"/>
<rect x="111.93" y="559.65" width="4.3" height="0.9" fill="#0e2a55"/>
<rect x="111.93" y="635.6" width="4.3" height="16.3" fill="#3a9fdc"/>
<rect x="111.93" y="640.85" width="4.3" height="0.9" fill="#bfe2f6"/>
<rect x="117.53" y="528.2" width="4.3" height="20.8" fill="#4a1a60"/>
<rect x="117.53" y="531.45" width="4.3" height="0.9" fill="#2e0c40"/>
<rect x="117.53" y="628.8" width="4.3" height="15" fill="#8c82c0"/>
<rect x="117.53" y="633.75" width="4.3" height="0.9" fill="#d2cce8"/>
<rect x="139.37" y="561.2" width="4.3" height="17.8" fill="#4a1a60"/>
<rect x="139.37" y="567.35" width="4.3" height="0.9" fill="#2e0c40"/>
<rect x="144.57" y="531.5" width="4.3" height="1.6" fill="#0b2e22"/>
<rect x="166.71" y="508.4" width="4.3" height="4" fill="#0f5a3f"/>
<rect x="166.71" y="567.5" width="4.3" height="7.1" fill="#3da443"/>
<rect x="166.71" y="570.75" width="4.3" height="0.9" fill="#a8dca8"/>
<rect x="211.49" y="511.5" width="4.3" height="43.5" fill="#0f5a3f"/>
<rect x="211.49" y="521.15" width="4.3" height="0.9" fill="#08362a"/>
<rect x="211.49" y="568.8" width="4.3" height="9.9" fill="#3da443"/>
<rect x="211.49" y="573.25" width="4.3" height="0.9" fill="#a8dca8"/>
<rect x="233.43" y="499" width="4.3" height="14.2" fill="#0f5a3f"/>
<rect x="233.43" y="503.85" width="4.3" height="0.9" fill="#08362a"/>
<rect x="233.43" y="566.8" width="4.3" height="6.8" fill="#3da443"/>
<rect x="233.43" y="569.25" width="4.3" height="0.9" fill="#a8dca8"/>
<rect x="255.77" y="505.4" width="4.3" height="5.8" fill="#0f5a3f"/>
<rect x="255.77" y="558.8" width="4.3" height="17.4" fill="#3da443"/>
<rect x="255.77" y="564.15" width="4.3" height="0.9" fill="#a8dca8"/>
<rect x="278.31" y="493.5" width="4.3" height="27.5" fill="#0f5a3f"/>
<rect x="278.31" y="501.65" width="4.3" height="0.9" fill="#08362a"/>
<rect x="278.31" y="548.7" width="4.3" height="14" fill="#3da443"/>
<rect x="278.31" y="553.25" width="4.3" height="0.9" fill="#a8dca8"/>
<rect x="368.07" y="531.5" width="4.3" height="10.4" fill="#0f5a3f"/>
<rect x="390.41" y="533.2" width="4.3" height="15.2" fill="#0f5a3f"/>
<rect x="412.95" y="538.5" width="4.3" height="8" fill="#0f5a3f"/>
<rect x="434.89" y="509.2" width="4.3" height="9" fill="#0f5a3f"/>
<rect x="434.89" y="559.9" width="4.3" height="32.8" fill="#3da443"/>
<rect x="434.89" y="569.15" width="4.3" height="0.9" fill="#a8dca8"/>
<path d="M74.4 699L77.9 702.5L74.4 706L70.9 702.5Z" fill="#be0f2e"/>
<path d="M96.74 699L100.24 702.5L96.74 706L93.24 702.5Z" fill="#be0f2e"/>
<path d="M119.08 588.8L122.58 592.3L119.08 595.8L115.58 592.3Z" fill="#be0f2e"/>
<path d="M141.42 454.9L144.92 458.4L141.42 461.9L137.92 458.4Z" fill="#be0f2e"/>
<path d="M163.76 672.8L167.26 676.3L163.76 679.8L160.26 676.3Z" fill="#be0f2e"/>
<path d="M186.1 699L189.6 702.5L186.1 706L182.6 702.5Z" fill="#be0f2e"/>
<path d="M208.44 699L211.94 702.5L208.44 706L204.94 702.5Z" fill="#be0f2e"/>
<path d="M230.78 699L234.28 702.5L230.78 706L227.28 702.5Z" fill="#be0f2e"/>
<path d="M253.12 699L256.62 702.5L253.12 706L249.62 702.5Z" fill="#be0f2e"/>
<path d="M275.46 699L278.96 702.5L275.46 706L271.96 702.5Z" fill="#be0f2e"/>
<path d="M297.8 699L301.3 702.5L297.8 706L294.3 702.5Z" fill="#be0f2e"/>
<path d="M320.14 699L323.64 702.5L320.14 706L316.64 702.5Z" fill="#be0f2e"/>
<path d="M342.48 699L345.98 702.5L342.48 706L338.98 702.5Z" fill="#be0f2e"/>
<path d="M364.82 699L368.32 702.5L364.82 706L361.32 702.5Z" fill="#be0f2e"/>
<path d="M387.16 699L390.66 702.5L387.16 706L383.66 702.5Z" fill="#be0f2e"/>
<path d="M409.5 699L413 702.5L409.5 706L406 702.5Z" fill="#be0f2e"/>
<path d="M431.84 699L435.34 702.5L431.84 706L428.34 702.5Z" fill="#be0f2e"/>
<path d="M454.18 699L457.68 702.5L454.18 706L450.68 702.5Z" fill="#be0f2e"/>
<path d="M476.52 699L480.02 702.5L476.52 706L473.02 702.5Z" fill="#be0f2e"/>
<polygon points="127.7,713.1 129.49,716.84 133.6,717.38 130.59,720.24 131.34,724.32 127.7,722.34 124.06,724.32 124.81,720.24 121.8,717.38 125.91,716.84" fill="#f8c300"/>
</svg>
</body></html>
